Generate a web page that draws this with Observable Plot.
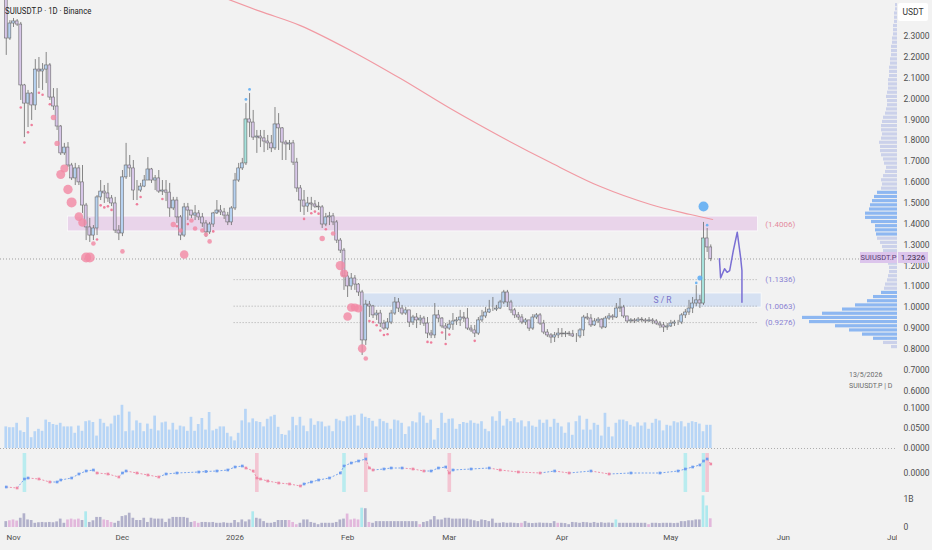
<!DOCTYPE html>
<html>
<head>
<meta charset="utf-8">
<script src="https://cdn.jsdelivr.net/npm/d3@7"></script>
<script src="https://cdn.jsdelivr.net/npm/@observablehq/plot@0.6"></script>
<style>
  html, body { margin: 0; padding: 0; background: #f2f2f2; }
  #chart { position: relative; width: 932px; height: 550px; background: #f2f2f2; overflow: hidden;
           font-family: "Liberation Sans Narrow", "Roboto", sans-serif; color: #4a4a4a; }
  #chart svg { position: absolute; left: 0; }
  .ov { position: absolute; white-space: nowrap; line-height: 1; }
</style>
</head>
<body>
<div id="chart"></div>
<script>
// ---------------- DATA ----------------
const symbolTitle = "SUIUSDT.P · 1D · Binance";
const startDate = "2025-10-30";          // first daily candle
const firstOpen = 2.50;
const close = [
  2.290, 2.362,
  2.372, 2.357, 2.065, 1.978, 2.026, 1.969, 2.141, 2.132, 2.141, 2.161, 2.007, 1.964, 1.868, 1.739, 1.767, 1.681, 1.619, 1.667, 1.600, 1.489, 1.384, 1.345, 1.379, 1.528, 1.556, 1.547, 1.523, 1.499, 1.369, 1.355,
  1.624, 1.681, 1.667, 1.561, 1.561, 1.580, 1.609, 1.662, 1.609, 1.619, 1.556, 1.561, 1.551, 1.475, 1.513, 1.432, 1.345, 1.480, 1.465, 1.441, 1.451, 1.432, 1.403, 1.360, 1.398, 1.451, 1.465, 1.456, 1.441, 1.408, 1.475,
  1.609, 1.667, 1.691, 1.902, 1.887, 1.815, 1.820, 1.811, 1.796, 1.787, 1.763, 1.878, 1.859, 1.791, 1.782, 1.787, 1.695, 1.571, 1.513, 1.484, 1.499, 1.494, 1.484, 1.480, 1.398, 1.432, 1.437, 1.408, 1.321, 1.273, 1.149,
  1.101, 1.139, 1.110, 1.072, 0.842, 1.014, 1.005, 0.962, 0.971, 0.923, 0.899, 0.928, 0.971, 1.024, 0.995, 0.971, 0.986, 0.928, 0.952, 0.938, 0.947, 0.923, 0.875, 0.866, 0.962, 0.947, 0.909, 0.899,
  0.918, 0.933, 0.938, 0.952, 0.947, 0.899, 0.890, 0.875, 0.938, 0.957, 0.976, 0.990, 0.990, 0.995, 1.024, 1.072, 1.024, 0.986, 0.962, 0.952, 0.928, 0.938, 0.899, 0.952, 0.962, 0.923, 0.880, 0.866, 0.856, 0.866, 0.875,
  0.871, 0.875, 0.871, 0.861, 0.861, 0.890, 0.952, 0.947, 0.914, 0.933, 0.942, 0.904, 0.947, 0.957, 0.952, 0.995, 1.000, 0.957, 0.933, 0.938, 0.933, 0.942, 0.938, 0.933, 0.938, 0.933, 0.923, 0.914, 0.904, 0.909,
  0.923, 0.928, 0.928, 0.962, 0.976, 0.995, 1.019, 1.034, 1.019, 1.331, 1.288, 1.2326
];
const high = [
  2.520, 2.376,
  2.386, 2.381, 2.367, 2.070, 2.041, 2.031, 2.189, 2.199, 2.170, 2.223, 2.170, 2.050, 2.050, 1.873, 1.787, 1.791, 1.691, 1.691, 1.681, 1.681, 1.499, 1.427, 1.393, 1.537, 1.609, 1.585, 1.595, 1.537, 1.528, 1.393,
  1.657, 1.787, 1.729, 1.705, 1.609, 1.595, 1.633, 1.719, 1.667, 1.633, 1.657, 1.609, 1.609, 1.595, 1.528, 1.528, 1.441, 1.499, 1.499, 1.465, 1.489, 1.465, 1.451, 1.417, 1.408, 1.456, 1.513, 1.489, 1.475, 1.456, 1.484,
  1.643, 1.691, 1.715, 1.978, 2.026, 1.945, 1.849, 1.849, 1.849, 1.825, 1.825, 1.959, 1.930, 1.863, 1.801, 1.801, 1.801, 1.715, 1.585, 1.561, 1.528, 1.528, 1.513, 1.504, 1.489, 1.451, 1.456, 1.451, 1.417, 1.331, 1.283,
  1.168, 1.163, 1.153, 1.115, 1.082, 1.034, 1.029, 1.010, 0.986, 0.986, 0.938, 0.947, 0.986, 1.048, 1.043, 1.010, 1.000, 0.986, 0.962, 0.971, 0.962, 0.957, 0.952, 0.890, 1.019, 0.986, 0.952, 0.923,
  0.938, 0.971, 0.952, 0.986, 0.976, 0.995, 0.914, 0.914, 0.952, 0.986, 1.000, 1.034, 1.048, 1.010, 1.034, 1.082, 1.082, 1.034, 0.995, 0.976, 0.966, 0.947, 0.938, 0.966, 0.971, 0.971, 0.938, 0.894, 0.875, 0.880, 0.899,
  0.899, 0.885, 0.885, 0.890, 0.875, 0.899, 0.962, 0.971, 0.966, 0.947, 0.952, 0.947, 0.957, 0.971, 0.966, 1.019, 1.043, 1.010, 0.957, 0.947, 0.947, 0.952, 0.952, 0.947, 0.952, 0.947, 0.942, 0.933, 0.928, 0.923,
  0.938, 0.938, 0.938, 0.971, 0.990, 1.034, 1.048, 1.105, 1.058, 1.408, 1.379, 1.300
];
const low = [
  2.209, 2.281,
  2.343, 2.348, 1.993, 1.815, 1.863, 1.897, 1.945, 2.050, 2.041, 2.074, 1.993, 1.945, 1.849, 1.729, 1.729, 1.671, 1.609, 1.585, 1.585, 1.451, 1.321, 1.312, 1.321, 1.345, 1.513, 1.499, 1.504, 1.484, 1.355, 1.321,
  1.340, 1.614, 1.624, 1.513, 1.513, 1.552, 1.575, 1.609, 1.595, 1.561, 1.547, 1.537, 1.508, 1.432, 1.465, 1.403, 1.321, 1.336, 1.417, 1.427, 1.417, 1.417, 1.384, 1.336, 1.350, 1.384, 1.446, 1.441, 1.422, 1.393, 1.393,
  1.465, 1.600, 1.657, 1.681, 1.815, 1.801, 1.739, 1.767, 1.743, 1.753, 1.743, 1.753, 1.753, 1.705, 1.705, 1.753, 1.681, 1.552, 1.456, 1.441, 1.456, 1.465, 1.475, 1.465, 1.379, 1.388, 1.393, 1.393, 1.307, 1.259, 1.082,
  1.048, 1.082, 1.082, 1.053, 0.770, 0.818, 0.952, 0.947, 0.938, 0.904, 0.890, 0.890, 0.918, 0.962, 0.976, 0.962, 0.962, 0.904, 0.914, 0.899, 0.914, 0.909, 0.851, 0.851, 0.851, 0.928, 0.899, 0.842,
  0.890, 0.890, 0.914, 0.909, 0.928, 0.890, 0.880, 0.856, 0.866, 0.928, 0.947, 0.971, 0.981, 0.981, 0.990, 1.014, 1.000, 0.971, 0.947, 0.938, 0.918, 0.914, 0.885, 0.890, 0.942, 0.914, 0.870, 0.856, 0.827, 0.832, 0.851,
  0.856, 0.856, 0.861, 0.856, 0.832, 0.851, 0.861, 0.938, 0.904, 0.909, 0.923, 0.894, 0.899, 0.938, 0.938, 0.947, 0.976, 0.947, 0.923, 0.923, 0.923, 0.928, 0.928, 0.923, 0.928, 0.918, 0.914, 0.899, 0.880, 0.890,
  0.904, 0.909, 0.914, 0.918, 0.947, 0.962, 0.971, 1.005, 0.995, 1.010, 1.264, 1.220
];
const tealCandles = ["2026-01-04", "2026-05-10"];

// volume pane (upper)
const volume = [
  0.054,0.052,0.052,0.063,0.044,0.040,0.077,0.027,0.042,0.048,
  0.043,0.071,0.065,0.060,0.058,0.063,0.054,0.054,0.054,0.038,
  0.056,0.043,0.067,0.069,0.065,0.031,0.073,0.063,0.054,0.061,
  0.081,0.083,0.108,0.042,0.091,0.044,0.069,0.063,0.042,0.061,
  0.048,0.081,0.044,0.064,0.066,0.046,0.063,0.046,0.056,0.054,
  0.043,0.078,0.043,0.060,0.075,0.046,0.090,0.044,0.048,0.054,
  0.054,0.038,0.029,0.019,0.038,0.069,0.098,0.064,0.074,0.067,
  0.065,0.054,0.073,0.079,0.083,0.053,0.035,0.033,0.044,0.078,
  0.057,0.078,0.056,0.042,0.074,0.058,0.067,0.066,0.054,0.056,
  0.042,0.073,0.069,0.067,0.079,0.081,0.083,0.056,0.086,0.078,
  0.075,0.068,0.054,0.073,0.067,0.063,0.048,0.071,0.069,0.063,
  0.035,0.054,0.067,0.064,0.089,0.081,0.063,0.071,0.021,0.050,
  0.088,0.063,0.073,0.074,0.048,0.060,0.065,0.063,
  0.069,0.063,0.061,0.067,0.048,0.042,0.079,0.068,0.092,0.056,
  0.073,0.067,0.075,0.064,0.069,0.054,0.067,0.056,0.053,0.071,
  0.063,0.071,0.053,0.073,0.063,0.054,0.038,0.064,0.033,0.067,
  0.081,0.046,0.073,0.046,0.063,0.058,0.031,0.088,0.053,0.029,
  0.063,0.071,0.071,0.067,0.058,0.054,0.064,0.056,0.064,0.048,
  0.063,0.073,0.069,0.044,0.058,0.056,0.067,0.064,0.067,0.054,
  0.063,0.067,0.065,0.061,0.042,0.058,0.058
];
// lower pane volume (billions)
const volume2 = [
  0.21,0.24,0.27,0.23,0.33,0.49,0.27,0.25,0.15,0.17,
  0.18,0.17,0.18,0.17,0.20,0.30,0.15,0.27,0.30,0.27,
  0.30,0.25,0.56,0.18,0.24,0.36,0.36,0.27,0.25,0.18,
  0.15,0.22,0.39,0.42,0.51,0.33,0.25,0.25,0.33,0.18,
  0.33,0.30,0.30,0.30,0.18,0.30,0.36,0.36,0.36,0.36,
  0.33,0.18,0.21,0.15,0.18,0.18,0.17,0.18,0.15,0.15,
  0.17,0.15,0.15,0.25,0.17,0.27,0.20,0.27,0.56,0.33,
  0.30,0.21,0.15,0.15,0.18,0.25,0.25,0.25,0.25,0.18,
  0.10,0.15,0.27,0.27,0.18,0.15,0.10,0.15,0.15,0.15,
  0.15,0.18,0.27,0.30,0.48,0.27,0.30,0.27,0.69,0.67,
  0.18,0.15,0.21,0.21,0.21,0.21,0.21,0.21,0.21,0.21,
  0.21,0.21,0.21,0.21,0.10,0.18,0.21,0.27,0.39,0.27,
  0.27,0.33,0.33,0.30,0.30,0.30,0.30,0.30,0.27,0.24,
  0.21,0.27,0.25,0.21,0.30,0.15,0.15,0.17,0.15,0.16,
  0.15,0.14,0.15,0.21,0.15,0.14,0.15,0.16,0.15,0.15,
  0.14,0.21,0.15,0.15,0.14,0.10,0.18,0.17,0.15,0.18,
  0.17,0.15,0.18,0.15,0.17,0.15,0.16,0.15,0.27,0.15,
  0.15,0.15,0.15,0.15,0.15,0.15,0.15,0.10,0.15,0.15,
  0.14,0.15,0.15,0.15,0.14,0.15,0.21,0.21,0.24,0.24,
  0.27,0.27,1.13,0.77,0.31
];
const vol2Pink = ["2025-10-31","2025-11-01","2025-11-02","2025-11-16","2025-11-17","2025-11-18","2025-11-19","2025-11-26","2025-11-27","2025-11-28","2025-12-21","2025-12-22","2026-01-16","2026-01-17","2026-01-18","2026-02-01","2026-02-02","2026-02-03","2026-02-04","2026-02-07","2026-02-21","2026-03-21","2026-03-31","2026-04-25","2026-05-12"];
const vol2Cyan = ["2025-11-21","2026-01-06","2026-02-05","2026-04-16","2026-05-10","2026-05-11"];

// oscillator pane
const oscDates = ["2025-10-30","2025-11-02","2025-11-04","2025-11-05","2025-11-08","2025-11-11","2025-11-13","2025-11-14","2025-11-17","2025-11-19","2025-11-21","2025-11-23","2025-11-24","2025-11-27","2025-11-30","2025-12-01","2025-12-02","2025-12-05","2025-12-08","2025-12-11","2025-12-13","2025-12-16","2025-12-22","2025-12-24","2025-12-27","2025-12-30","2026-01-01","2026-01-03","2026-01-04","2026-01-06","2026-01-07","2026-01-08","2026-01-10","2026-01-13","2026-01-16","2026-01-19","2026-01-20","2026-01-22","2026-01-24","2026-01-27","2026-01-30","2026-01-31","2026-02-02","2026-02-04","2026-02-06","2026-02-07","2026-02-08","2026-02-11","2026-02-13","2026-02-16","2026-02-19","2026-02-22","2026-02-24","2026-02-26","2026-02-28","2026-03-01","2026-03-02","2026-03-07","2026-03-12","2026-03-15","2026-03-20","2026-03-26","2026-03-30","2026-04-03","2026-04-09","2026-04-14","2026-04-20","2026-04-28","2026-05-03","2026-05-05","2026-05-07","2026-05-09","2026-05-10","2026-05-11","2026-05-12"];
const oscValues = [-0.0014,-0.0015,-0.0006,-0.0005,-0.0006,-0.0009,-0.0009,-0.0007,-0.0005,-0.0001,0.0002,0.0003,0.0000,-0.0001,-0.0004,0.0000,0.0002,0.0000,-0.0002,-0.0004,-0.0001,0.0000,0.0001,0.00015,0.0002,0.0003,0.0006,0.0007,0.0005,0.0002,-0.0005,-0.0006,-0.0008,-0.0010,-0.0011,-0.0013,-0.0011,-0.0009,-0.0007,-0.0005,0.0000,0.0007,0.0010,0.0012,0.0014,0.0005,0.0003,0.0004,0.0005,0.0005,0.0004,0.0002,0.0002,0.0005,0.0006,0.0000,0.0003,0.0004,0.0005,0.0003,0.0001,0.0000,0.0002,0.0000,0.0002,-0.0001,0.0000,0.0000,0.0002,0.0004,0.0006,0.0008,0.0012,0.0014,0.0009];
const oscCyanBands = ["2025-11-04","2026-01-31","2026-05-05","2026-05-10"];
const oscPinkBands = ["2026-01-07","2026-02-06","2026-03-01","2026-05-11"];

// moving average (salmon curve)
const maDates = ["2025-12-28","2026-01-08","2026-01-19","2026-02-01T19:00Z","2026-02-15T14:00Z","2026-03-01T07:00Z","2026-03-15T02:00Z","2026-03-28T21:00Z","2026-04-11T14:00Z","2026-04-25T10:00Z","2026-05-06T10:00Z","2026-05-12T12:00Z"];
const maValues = [2.492, 2.420, 2.352, 2.233, 2.098, 1.954, 1.820, 1.695, 1.580, 1.494, 1.446, 1.422];

// hand-drawn projection path
const projDates = ["2026-05-14T09:00Z","2026-05-14T17:00Z","2026-05-15T19:00Z","2026-05-16T12:00Z","2026-05-17T05:00Z","2026-05-18T05:00Z","2026-05-19T07:00Z","2026-05-20T05:00Z","2026-05-20T14:00Z","2026-05-20T14:00Z"];
const projValues = [1.234, 1.142, 1.186, 1.169, 1.177, 1.273, 1.361, 1.241, 1.177, 1.025];

// zones & levels
const zoneStart = ["2025-11-16", "2026-02-05T08:00Z"];
const zoneEnd   = ["2026-05-25", "2026-05-26"];
const zoneLow   = [1.365, 1.000];
const zoneHigh  = [1.436, 1.067];
const zoneFill  = ["#e9d4ea", "#d6e1f2"];
const levelValues = [1.1336, 1.0063, 0.9276];
const levelStart = "2025-12-31T18:00Z", levelEnd = "2026-05-25";
const levelLabelValues = [1.4006, 1.1336, 1.0063, 0.9276];
const levelLabelText = ["(1.4006)", "(1.1336)", "(1.0063)", "(0.9276)"];
const levelLabelColor = ["#e48b9e", "#8a82d2", "#8a82d2", "#8a82d2"];
const levelLabelDate = "2026-05-27";
const srLabel = {date: "2026-04-28T17:00Z", price: 1.034, text: "S / R"};

// signal markers
const pinkBigDates = ["2025-11-12","2025-11-13","2025-11-15","2025-11-14","2025-11-16","2025-11-17","2025-11-19","2025-11-20","2025-11-21","2025-11-22","2025-11-23","2025-12-01","2025-12-15","2025-12-17","2025-12-20","2025-12-21","2025-12-23","2025-12-24","2025-12-25","2025-12-18","2026-01-25","2026-01-28","2026-01-30","2026-01-31","2026-02-02","2026-02-03","2026-02-04","2026-02-01","2026-02-05","2026-02-06"];
const pinkBigPrices = [1.911,1.787,1.667,1.638,1.566,1.504,1.436,1.408,1.240,1.240,1.307,1.269,1.398,1.369,1.417,1.379,1.369,1.350,1.317,1.254,1.331,1.355,1.201,1.163,1.000,1.000,0.995,0.957,0.803,0.755];
const pinkBigSizes  = [2.7,2.7,4,4.5,4.7,5,4.3,4.3,5,5,2.3,2.3,2.7,2.3,2.3,2.3,2.3,2.3,2.3,4.3,2.7,2.3,4.7,4,4.3,4,4,4.3,4.3,2.3];
const pinkSmallDates = ["2025-11-03","2025-11-04","2025-11-05","2025-11-06","2025-11-08","2025-11-09","2025-11-11","2025-11-24","2025-11-25","2025-11-26","2025-11-27","2025-11-28","2025-12-05","2025-12-06","2025-12-12","2025-12-16","2025-12-19","2025-12-26","2026-01-20","2026-01-22","2026-01-23","2026-01-24","2026-01-26","2026-02-07","2026-02-08","2026-02-09","2026-02-10","2026-02-11","2026-02-12","2026-02-23","2026-02-24","2026-02-27","2026-02-28","2026-03-01","2026-03-08"];
const pinkSmallPrices = [1.959,1.791,1.840,1.875,2.030,2.020,1.975,1.326,1.490,1.480,1.485,1.468,1.495,1.530,1.520,1.390,1.400,1.365,1.425,1.452,1.460,1.450,1.375,0.935,0.930,0.915,0.890,0.868,0.872,0.835,0.832,0.880,0.825,0.870,0.840];
const blueDates  = ["2026-01-04","2026-01-05","2026-05-10","2026-05-09","2026-05-11","2026-05-08"];
const bluePrices = [1.998, 2.046, 1.484, 1.141, 1.395, 1.118];
const blueSizes  = [1.4, 1.4, 5, 2.5, 1.3, 1.3];

// volume profile (right side)
const profilePrice = [0.81,0.83,0.85,0.87,0.89,0.91,0.93,0.95,0.97,0.99,1.01,1.03,1.05,1.07,1.09,1.11,1.13,1.15,1.17,1.19,1.21,1.23,1.25,1.27,1.29,1.31,1.33,1.35,1.37,1.39,1.41,1.43,1.45,1.47,1.49,1.51,1.53,1.55,1.57,1.59,1.61,1.63,1.65,1.67,1.69,1.71,1.73,1.75,1.77,1.79,1.81,1.83,1.85,1.87,1.89,1.91,1.93,1.95,1.97,1.99,2.01,2.03,2.05,2.07,2.09,2.11,2.13,2.15,2.17,2.19,2.21,2.23,2.25,2.27,2.29,2.31,2.33,2.35,2.37,2.39,2.41,2.43,2.45];
const profileVolume = [6,14,24,35,48,62,88,95,75,55,42,30,24,16,13,12,10,9,8,8,9,10,12,14,15,17,20,21,22,22,26,32,32,28,27,25,23,20,16,15,16,14,12,11,13,14,16,17,17,18,16,15,16,16,15,14,12,11,10,10,11,10,9,9,9,8,8,8,7,7,6,6,6,5,5,4,4,4,3,3,3,2,2];

// axes
const priceTicks = [0.6,0.7,0.8,0.9,1.0,1.1,1.2,1.3,1.4,1.5,1.6,1.7,1.8,1.9,2.0,2.1,2.2,2.3];
const volTicks = [0, 0.05, 0.1];
const vol2Ticks = [0, 1];
const vol2TickLabels = ["0", "1B"];
const monthTickDates = ["2025-11-01","2025-12-01","2026-01-01","2026-02-01","2026-03-01","2026-04-01","2026-05-01","2026-06-01","2026-07-01"];
const monthTickLabels = ["Nov","Dec","2026","Feb","Mar","Apr","May","Jun","Jul"];
const xDomain = ["2025-10-28T10:00Z", "2026-07-02T10:00Z"];
const priceDomain = [0.5779, 2.4724];

// ---------------- BUILD ----------------
const DAY = 864e5;
const D = s => new Date(s);
const dates = close.map((_, i) => new Date(Date.parse(startDate) + i * DAY));
const tealSet = new Set(tealCandles.map(s => +D(s)));
const pinkSet = new Set(vol2Pink.map(s => +D(s)));
const cyanSet = new Set(vol2Cyan.map(s => +D(s)));
const candles = close.map((c, i) => ({
  date: dates[i], open: i ? close[i - 1] : firstOpen, close: c,
  high: high[i], low: low[i], vol: volume[i], vol2: volume2[i]
}));
const zones = zoneStart.map((s, i) => ({x1: D(s), x2: D(zoneEnd[i]), y1: zoneLow[i], y2: zoneHigh[i], fill: zoneFill[i]}));
const levelLabels = levelLabelValues.map((v, i) => ({price: v, text: levelLabelText[i], color: levelLabelColor[i]}));
const ma = maDates.map((s, i) => ({date: D(s), value: maValues[i]}));
const proj = projDates.map((s, i) => ({date: D(s), value: projValues[i]}));
const pinkBig = pinkBigDates.map((s, i) => ({date: D(s), price: pinkBigPrices[i], r: pinkBigSizes[i]}));
const pinkSmall = pinkSmallDates.map((s, i) => ({date: D(s), price: pinkSmallPrices[i]}));
const blues = blueDates.map((s, i) => ({date: D(s), price: bluePrices[i], r: blueSizes[i]}));
const profile = profilePrice.map((p, i) => ({price: p, vol: profileVolume[i]}));
const osc = oscDates.map((s, i) => ({date: D(s), value: oscValues[i]}));
const oscSegs = osc.slice(1).map((d, i) => ({a: osc[i], b: d, up: d.value >= osc[i].value}));
const lastClose = close[close.length - 1];

const FONT = '"Liberation Sans Narrow", Roboto, sans-serif';
const style = {background: "transparent", fontFamily: FONT, fontSize: "8.5px", color: "#4e4e4e", overflow: "visible"};
const xScale = {type: "utc", domain: xDomain.map(D), axis: null};
const common = {width: 932, marginLeft: 0, marginRight: 35, style, color: {type: "identity"}};
const half = 0.4 * DAY, vhalf = 0.37 * DAY;
const bx1 = d => new Date(+d.date - half), bx2 = d => new Date(+d.date + half);
const vx1 = d => new Date(+d.date - vhalf), vx2 = d => new Date(+d.date + vhalf);
const WICK = "#6a6a6a";
const candleFill = d => tealSet.has(+d.date) ? "#a6e2dc" : (d.close >= d.open ? "#b6d1f0" : "#d7c6e8");
const AX = {anchor: "right", tickSize: 0, tickPadding: 6, label: null, fontSize: 8.5, fill: "#4e4e4e"};

const chart = document.getElementById("chart");
function place(svg, top) { svg.style.top = top + "px"; chart.appendChild(svg); return svg; }

// volume profile (behind main pane)
place(Plot.plot({
  ...common, height: 395, marginTop: 0, marginBottom: 0,
  x: {domain: [0, 96], range: [897, 801], axis: null},
  y: {domain: priceDomain, axis: null},
  marks: [
    Plot.rect(profile, {
      x1: () => 0, x2: "vol",
      y1: d => d.price - 0.0076, y2: d => d.price + 0.0076,
      fill: d => ((d.price >= 0.84 && d.price <= 1.08) || (d.price >= 1.34 && d.price <= 1.56)) ? "#8db7f1" : "#cbd1ea"
    })
  ]
}), 0);

// main price pane
const mainSvg = place(Plot.plot({
  ...common, height: 395, marginTop: 0, marginBottom: 0,
  x: xScale,
  y: {domain: priceDomain, axis: null},
  r: {type: "identity"},
  marks: [
    Plot.rect(zones, {x1: "x1", x2: "x2", y1: "y1", y2: "y2", fill: "fill", stroke: "#ffffff", strokeOpacity: 0.8, strokeWidth: 0.8}),
    Plot.ruleY([lastClose], {x1: () => D(xDomain[0]), x2: () => D(xDomain[1]), stroke: "#8a8a8a", strokeWidth: 0.8, strokeDasharray: "1 2"}),
    Plot.ruleY(levelValues, {x1: () => D(levelStart), x2: () => D(levelEnd), stroke: "#9a9a9a", strokeWidth: 0.8, strokeDasharray: "1 2"}),
    Plot.text(levelLabels, {x: () => D(levelLabelDate), y: "price", text: "text", fill: "color", textAnchor: "start", fontSize: 8}),
    Plot.text([srLabel], {x: d => D(d.date), y: "price", text: "text", fill: "#7870c8", fontSize: 8.5}),
    Plot.line(ma, {x: "date", y: "value", stroke: "#f19aa3", strokeWidth: 1.2, curve: "catmull-rom", clip: true}),
    Plot.ruleX(candles, {x: "date", y1: d => Math.min(d.low, d.open, d.close), y2: d => Math.max(d.high, d.open, d.close), stroke: WICK, strokeWidth: 0.8, clip: true}),
    Plot.rect(candles, {x1: bx1, x2: bx2, y1: "open", y2: "close", fill: candleFill, stroke: WICK, strokeWidth: 0.6, clip: true}),
    Plot.dot(pinkBig, {x: "date", y: "price", r: "r", fill: "#f28aa5", fillOpacity: 0.82, stroke: "none"}),
    Plot.dot(pinkSmall, {x: "date", y: "price", r: () => 1.3, fill: "#ee7f9c", stroke: "none"}),
    Plot.dot(blues, {x: "date", y: "price", r: "r", fill: "#62aef3", fillOpacity: 0.9, stroke: "none"}),
    Plot.line(proj, {x: "date", y: "value", stroke: "#7a6fd4", strokeWidth: 1.5}),
    Plot.axisY({...AX, ticks: priceTicks, tickFormat: d3.format(".4f")})
  ]
}), 0);

// volume pane
place(Plot.plot({
  ...common, height: 52, marginTop: 0, marginBottom: 2,
  x: xScale,
  y: {domain: [0, 0.125], axis: null},
  marks: [
    Plot.ruleY([0], {x1: () => D(xDomain[0]), x2: () => D(xDomain[1]), stroke: "#9a9a9a", strokeWidth: 0.8, strokeDasharray: "1 2"}),
    Plot.rect(candles, {x1: vx1, x2: vx2, y1: () => 0, y2: "vol", fill: "#b7d5f6"}),
    Plot.axisY({...AX, ticks: volTicks, tickFormat: d3.format(".4f")})
  ]
}), 398);

// oscillator pane
place(Plot.plot({
  ...common, height: 45, marginTop: 0, marginBottom: 0,
  x: xScale,
  y: {domain: [-0.00225, 0.00225], axis: null},
  marks: [
    Plot.ruleX(oscCyanBands, {x: d => D(d), insetTop: 3, insetBottom: 3, stroke: "#b9ecef", strokeWidth: 3.6}),
    Plot.ruleX(oscPinkBands, {x: d => D(d), insetTop: 3, insetBottom: 3, stroke: "#f3c5d2", strokeWidth: 3.6}),
    Plot.link(oscSegs, {x1: d => d.a.date, y1: d => d.a.value, x2: d => d.b.date, y2: d => d.b.value,
      stroke: d => d.up ? "#7aa6ee" : "#ef93ad", strokeWidth: 1, strokeDasharray: "2 1.6"}),
    Plot.dot(osc, {x: "date", y: "value", symbol: "square", r: 1.5,
      fill: (d, i) => (i > 0 && d.value < osc[i - 1].value) ? "#ef8aa6" : "#6f9ef0", stroke: "none"}),
    Plot.axisY({...AX, ticks: [0], tickFormat: () => "0.0000"})
  ]
}), 450);

// lower volume pane + time axis
const tickLabelMap = new Map(monthTickDates.map((s, i) => [+D(s), monthTickLabels[i]]));
place(Plot.plot({
  ...common, height: 55, marginTop: 0, marginBottom: 23,
  x: xScale,
  y: {domain: [0, 32 / 28], axis: null},
  marks: [
    Plot.rect(candles, {x1: vx1, x2: vx2, y1: () => 0, y2: "vol2",
      fill: d => cyanSet.has(+d.date) ? "#aee9ee" : pinkSet.has(+d.date) ? "#e2b8dc" : "#b1b0ca"}),
    Plot.axisY({...AX, ticks: vol2Ticks, tickFormat: (d) => vol2TickLabels[vol2Ticks.indexOf(d)]}),
    Plot.axisX({ticks: monthTickDates.map(D), tickFormat: d => tickLabelMap.get(+d), tickSize: 0, tickPadding: 7, label: null, fontSize: 8, fill: "#4e4e4e"})
  ]
}), 495);

// ---------------- overlays (text UI) ----------------
function ov(text, css) {
  const el = document.createElement("div");
  el.className = "ov"; el.textContent = text;
  Object.assign(el.style, css); chart.appendChild(el); return el;
}
ov(symbolTitle, {left: "5px", top: "6px", fontSize: "9.5px", color: "#222", transform: "scaleX(0.82)", transformOrigin: "0 0"});
ov("USDT", {left: "898px", top: "3px", width: "30px", height: "18px", lineHeight: "18px", textAlign: "center", background: "#ffffff", fontSize: "8.5px", color: "#333", borderRadius: "2px"});
// price label positioned through the main plot's y scale
const yScale = mainSvg.scale("y");
const yLast = yScale.apply(lastClose);
ov("SUIUSDT.P", {left: "860px", top: (yLast - 6.5) + "px", width: "37px", height: "11.5px", lineHeight: "11px", textAlign: "center", background: "#dcc5ec", fontSize: "7.5px", color: "#5a3d72"});
ov(d3.format(".4f")(lastClose), {left: "898px", top: (yLast - 6.5) + "px", width: "30px", height: "11.5px", lineHeight: "11px", textAlign: "center", background: "#dcc5ec", fontSize: "8px", color: "#3b2a4a"});
ov("13/5/2026", {left: "849px", top: "372px", fontSize: "7px", color: "#6a6a6a"});
ov("SUIUSDT.P | D", {left: "849px", top: "383px", fontSize: "7px", color: "#6a6a6a"});
ov("", {left: "897px", top: "530px", width: "35px", height: "20px", background: "#f2f2f2"});
</script>
</body>
</html>
